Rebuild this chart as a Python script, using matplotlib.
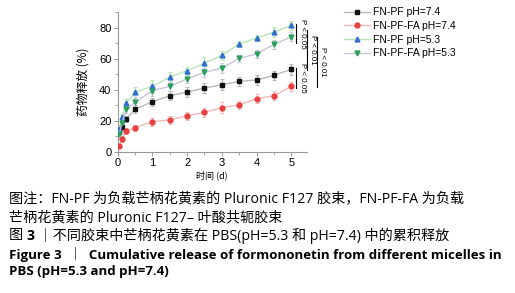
import matplotlib.pyplot as plt
from matplotlib.ticker import MultipleLocator

# release time (d) and cumulative release (%)
t = [0.042, 0.125, 0.25, 0.5, 1, 1.5, 2, 2.5, 3, 3.5, 4, 4.5, 5]
pf_74 = [13.0, 16.1, 21.3, 27.4, 32.3, 36.1, 38.5, 41.1, 43.2, 45.4, 46.3, 49.3, 53.2]
pffa_74 = [3.7, 8.4, 13.4, 15.5, 19.4, 20.5, 23.2, 25.4, 28.4, 30.3, 34.2, 36.1, 42.2]
pf_53 = [14.5, 22.6, 31.2, 38.5, 42.2, 48.2, 52.3, 57.2, 62.2, 69.5, 73.4, 77.2, 81.5]
pffa_53 = [11.2, 18.5, 27.3, 32.0, 39.4, 42.2, 47.1, 51.2, 54.0, 60.2, 63.2, 69.3, 74.2]

err_pf_74 = [1.5, 2.0, 2.0, 2.5, 2.5, 3.0, 3.0, 3.0, 3.5, 3.0, 3.0, 3.0, 3.5]
err_pffa_74 = [1.5, 2.0, 2.0, 2.0, 2.5, 2.5, 2.5, 3.0, 3.5, 2.5, 3.0, 3.0, 3.0]
err_pf_53 = [1.5, 2.0, 2.5, 3.0, 4.0, 3.0, 2.5, 4.0, 3.0, 2.0, 2.0, 3.0, 3.0]
err_pffa_53 = [1.5, 2.0, 2.5, 3.0, 3.5, 3.0, 3.0, 3.0, 3.0, 2.5, 2.5, 3.0, 3.0]

labels = ['FN-PF pH=7.4', 'FN-PF-FA pH=7.4', 'FN-PF pH=5.3', 'FN-PF-FA pH=5.3']

plt.rcParams['font.family'] = ['Liberation Sans', 'Noto Sans CJK SC']

fig = plt.figure(figsize=(5.15, 2.93), dpi=100)
ax = fig.add_axes([0.2285, 0.4823, 0.3675, 0.4757])

series = [
    (pf_74, err_pf_74, 's', '#111111', '#b8b8b8'),
    (pffa_74, err_pffa_74, 'o', '#e8403e', '#f2b8b8'),
    (pf_53, err_pf_53, '^', '#2f6fd0', '#b8e6b0'),
    (pffa_53, err_pffa_53, 'v', '#2aa05a', '#c8c4dc'),
]
for (y, e, m, mc, lc), lab in zip(series, labels):
    ax.errorbar(t, y, yerr=e, fmt='none', ecolor=lc, elinewidth=0.9,
                capsize=1.5, capthick=0.8, zorder=2)
    ax.plot(t, y, color=lc, lw=1.0, marker=m, markersize=3.5,
            markerfacecolor=mc, markeredgecolor=mc, label=lab, zorder=3)

ax.set_xlim(0, 5.45)
ax.set_ylim(0, 90)
ax.xaxis.set_major_locator(MultipleLocator(1))
ax.xaxis.set_minor_locator(MultipleLocator(0.5))
ax.yaxis.set_major_locator(MultipleLocator(20))
ax.yaxis.set_minor_locator(MultipleLocator(10))
for s in ['top', 'right']:
    ax.spines[s].set_visible(False)
for s in ['left', 'bottom']:
    ax.spines[s].set_color('#999999')
    ax.spines[s].set_linewidth(0.8)
ax.tick_params(axis='both', which='major', labelsize=8, length=3, width=0.7,
               color='#999999', pad=1.5)
ax.tick_params(axis='both', which='minor', length=2, width=0.6, color='#999999')
ax.set_ylabel('药物释放 (%)', fontsize=8.5, family=['Noto Sans CJK SC'], labelpad=7)
ax.set_xlabel('时间 (d)', fontsize=6.5, family=['Noto Sans CJK SC'], labelpad=2)

# significance marks right of the last time point: line x, y range, label, label x
sig = [
    (5.14, 82.4, 70.1, 'P < 0.05', 5.31),
    (5.14, 54.0, 41.1, 'P < 0.05', 5.31),
    (5.45, 78.5, 52.7, 'P < 0.01', 5.60),
    (5.73, 74.0, 41.7, 'P < 0.01', 5.90),
]
for x, y0, y1, txt, tx in sig:
    ax.plot([x, x], [y0, y1], color='black', lw=0.8, clip_on=False)
    ax.text(tx, (y0 + y1) / 2, txt, rotation=-90, fontsize=5.8,
            ha='center', va='center', clip_on=False)

ax.legend(loc='upper left', bbox_to_anchor=(0.668, 0.975),
          bbox_transform=fig.transFigure, frameon=False, fontsize=7.5,
          handlelength=2.5, handletextpad=0.3, labelspacing=0.35,
          borderaxespad=0, borderpad=0)

cap_font = ['Open Sans', 'Noto Sans CJK SC']
W, H = 515, 293


def put(x, y, s, **kw):
    return fig.text(x / W, 1 - y / H, s, va='center', ha='left', **kw)


put(9, 200, '图注：FN-PF 为负载芒柄花黄素的 Pluronic F127 胶束，FN-PF-FA 为负载',
    fontsize=10.15, family=cap_font)
put(9, 218, '芒柄花黄素的 Pluronic F127– 叶酸共轭胶束', fontsize=10.15, family=cap_font)

# third line with bold figure number
fig.canvas.draw()
r = fig.canvas.get_renderer()
x = 9
for s, w in [('图 ', 'normal'), ('3', 'bold'),
             (' ｜不同胶束中芒柄花黄素在 PBS(pH=5.3 和 pH=7.4) 中的累积释放', 'normal')]:
    tt = put(x, 236, s, fontsize=10.15, family=cap_font, fontweight=w)
    x += tt.get_window_extent(r).width

put(9, 254, 'Figure 3  ｜  Cumulative release of formononetin from different micelles in',
    fontsize=9.55, family=cap_font, fontweight='bold')
put(9, 272, 'PBS (pH=5.3 and pH=7.4)', fontsize=9.55, family=cap_font, fontweight='bold')

fig.savefig('out.png', dpi=100)
